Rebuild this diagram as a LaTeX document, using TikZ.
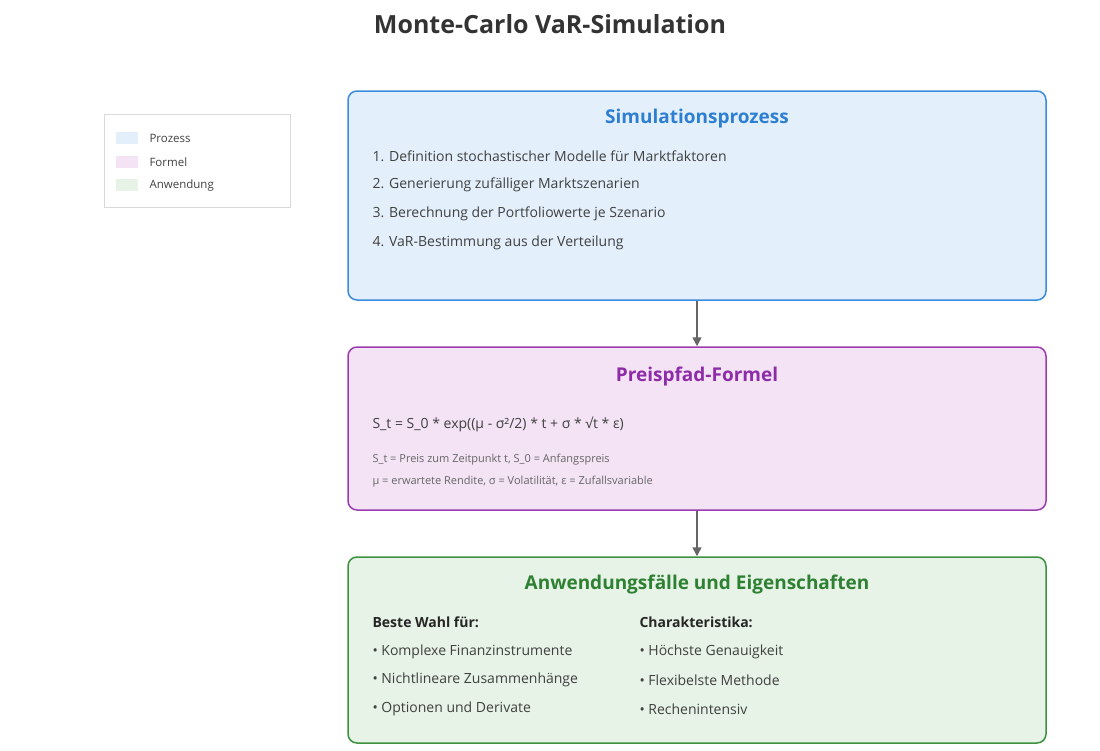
\documentclass[tikz,border=0pt]{standalone}
\usepackage{fontspec}
\setmainfont{Open Sans}
\usetikzlibrary{arrows.meta}
\begin{document}
\begin{tikzpicture}[x=1pt,y=-1pt,
  box/.style={draw,line width=1.5pt,rounded corners=9pt},
  hd/.style={font=\fontsize{19}{22}\selectfont\bfseries,anchor=center},
  tx/.style={font=\fontsize{14}{16}\selectfont,anchor=west,text=black!75},
  sm/.style={font=\fontsize{11}{13}\selectfont,anchor=west,text=black!60},
  lg/.style={font=\fontsize{11.5}{13}\selectfont,anchor=west,text=black!75},
  arr/.style={draw=black!60,line width=1.5pt,-{Triangle[length=9pt,width=9pt]}}]
\useasboundingbox (0,0) rectangle (1100,750);
\definecolor{bfill}{HTML}{E3F0FC}\definecolor{bdraw}{HTML}{3C8CDC}\definecolor{bhd}{HTML}{2E7FD1}
\definecolor{pfill}{HTML}{F3E3F5}\definecolor{pdraw}{HTML}{9C3CB0}\definecolor{phd}{HTML}{8E2BA8}
\definecolor{gfill}{HTML}{E6F3E6}\definecolor{gdraw}{HTML}{3C9040}\definecolor{ghd}{HTML}{2E8032}
\node[font=\fontsize{25}{28}\selectfont\bfseries,text=black!80] (title) at (550,24) {Monte-Carlo VaR-Simulation};
% legend
\node[draw=black!15,minimum width=186,minimum height=93,inner sep=0] (leg) at (197,160.5) {};
\fill[bfill] (116,132) rectangle (138,144);
\fill[pfill] (116,156) rectangle (138,168);
\fill[gfill] (116,179) rectangle (138,191);
\node[lg] (l1) at (146,138) {Prozess};
\node[lg] (l2) at (146,162) {Formel};
\node[lg] (l3) at (146,186) {Anwendung};
% boxes
\node[box,draw=bdraw,fill=bfill,minimum width=698,minimum height=209,inner sep=0] (b1) at (697,195.5) {};
\node[box,draw=pdraw,fill=pfill,minimum width=698,minimum height=163,inner sep=0] (b2) at (697,428.5) {};
\node[box,draw=gdraw,fill=gfill,minimum width=698,minimum height=186,inner sep=0] (b3) at (697,650) {};
\draw[arr] (b1.south) -- (b2.north);
\draw[arr] (b2.south) -- (b3.north);
% box 1
\node[hd,text=bhd] (h1) at (697,119) {Simulationsprozess};
\node[tx] (t11) at (369,156) {1. Definition stochastischer Modelle für Marktfaktoren};
\node[tx] (t12) at (369,185) {2. Generierung zufälliger Marktszenarien};
\node[tx] (t13) at (369,214) {3. Berechnung der Portfoliowerte je Szenario};
\node[tx] (t14) at (369,243) {4. VaR-Bestimmung aus der Verteilung};
% box 2
\node[hd,text=phd] (h2) at (697,377) {Preispfad-Formel};
\node[tx] (f) at (369,424) {S\_t = S\_0 * exp((μ - σ²/2) * t + σ * √t * ε)};
\node[sm] (s1) at (369,460) {S\_t = Preis zum Zeitpunkt t, S\_0 = Anfangspreis};
\node[sm] (s2) at (369,482) {μ = erwartete Rendite, σ = Volatilität, ε = Zufallsvariable};
% box 3
\node[hd,text=ghd] (h3) at (697,585) {Anwendungsfälle und Eigenschaften};
\node[tx,font=\fontsize{14}{16}\selectfont\bfseries,text=black!85] (c1) at (369,622) {Beste Wahl für:};
\node[tx] (c11) at (369,652) {• Komplexe Finanzinstrumente};
\node[tx] (c12) at (369,680) {• Nichtlineare Zusammenhänge};
\node[tx] (c13) at (369,709) {• Optionen und Derivate};
\node[tx,font=\fontsize{14}{16}\selectfont\bfseries,text=black!85] (c2) at (636,622) {Charakteristika:};
\node[tx] (c21) at (636,652) {• Höchste Genauigkeit};
\node[tx] (c22) at (636,680) {• Flexibelste Methode};
\node[tx] (c23) at (636,709) {• Rechenintensiv};
\end{tikzpicture}
\end{document}
